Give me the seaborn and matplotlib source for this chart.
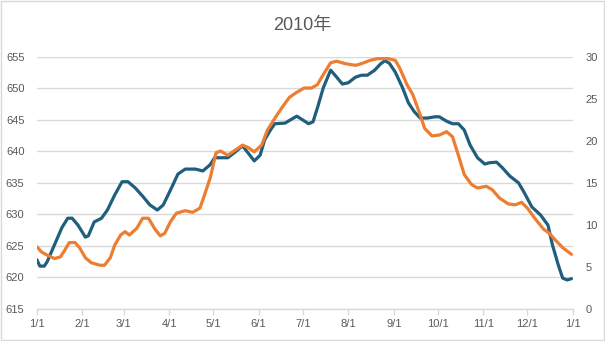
import numpy as np
import pandas as pd
import matplotlib
matplotlib.use("Agg")
import matplotlib.pyplot as plt
import matplotlib.dates as mdates
import seaborn as sns

# ---- data ----
title = "2010年"
blue_days = [0, 2, 5, 7, 12, 17, 21, 24, 28, 33, 35, 39, 44, 48, 53, 58, 62, 67, 72, 77,
             82, 86, 91, 96, 101, 108, 113, 118, 121, 126, 130, 135, 140, 145, 148, 152,
             155, 159, 162, 169, 174, 177, 181, 185, 188, 191, 195, 200, 203, 208, 212,
             217, 221, 225, 230, 234, 237, 240, 244, 249, 253, 257, 261, 266, 271, 274,
             279, 283, 287, 291, 295, 300, 305, 308, 313, 317, 322, 328, 332, 337, 343,
             348, 351, 355, 358, 361, 364]
blue_vals = [622.8, 621.8, 621.8, 622.5, 625.2, 627.9, 629.4, 629.4, 628.3, 626.4, 626.6,
             628.8, 629.4, 630.7, 633.1, 635.2, 635.2, 634.2, 632.9, 631.5, 630.7, 631.5,
             633.9, 636.4, 637.2, 637.2, 636.9, 637.9, 639.0, 639.0, 639.0, 639.9, 640.9,
             639.4, 638.5, 639.4, 641.8, 643.4, 644.4, 644.5, 645.2, 645.6, 645.0, 644.4,
             644.7, 646.9, 650.1, 652.9, 652.1, 650.7, 650.9, 651.8, 652.1, 652.1, 652.9,
             653.9, 654.4, 654.0, 652.6, 650.1, 647.7, 646.3, 645.3, 645.3, 645.5, 645.5,
             644.8, 644.4, 644.4, 643.4, 641.0, 639.0, 638.0, 638.2, 638.3, 637.4, 636.1,
             635.0, 633.4, 631.2, 629.9, 628.3, 625.2, 622.0, 619.9, 619.6, 619.8]

orange_days = [0, 3, 7, 12, 16, 19, 22, 26, 29, 33, 37, 43, 46, 50, 53, 57, 60, 63, 68, 72,
               76, 80, 84, 87, 91, 95, 101, 106, 111, 114, 118, 122, 125, 130, 135, 140,
               144, 148, 153, 157, 162, 167, 172, 177, 182, 187, 191, 195, 200, 204, 210,
               217, 221, 227, 232, 239, 244, 247, 252, 256, 261, 264, 269, 274, 279, 283,
               287, 291, 296, 300, 306, 310, 315, 321, 326, 330, 334, 339, 345, 349, 353,
               358, 364]
orange_vals = [7.4, 6.8, 6.4, 6.0, 6.2, 7.0, 7.9, 7.9, 7.3, 6.1, 5.5, 5.2, 5.2, 6.1, 7.6,
               8.8, 9.2, 8.8, 9.6, 10.8, 10.8, 9.6, 8.7, 9.0, 10.4, 11.4, 11.7, 11.5, 12.0,
               13.5, 15.6, 18.6, 18.8, 18.3, 18.9, 19.5, 19.2, 18.7, 19.5, 21.3, 22.7, 24.0,
               25.2, 25.8, 26.3, 26.3, 26.7, 27.9, 29.3, 29.5, 29.2, 29.0, 29.2, 29.6, 29.8,
               29.8, 29.6, 28.7, 26.7, 25.5, 23.1, 21.5, 20.6, 20.7, 21.1, 20.5, 18.3, 16.0,
               14.8, 14.4, 14.6, 14.2, 13.2, 12.5, 12.4, 12.7, 12.0, 10.8, 9.5, 9.0, 8.2,
               7.3, 6.5]

left_ticks = [615, 620, 625, 630, 635, 640, 645, 650, 655]
right_ticks = [0, 5, 10, 15, 20, 25, 30]
month_labels = ["1/1", "2/1", "3/1", "4/1", "5/1", "6/1", "7/1", "8/1", "9/1",
                "10/1", "11/1", "12/1", "1/1"]

# ---- build frames ----
start = pd.Timestamp("2010-01-01")
df_blue = pd.DataFrame({"date": start + pd.to_timedelta(blue_days, unit="D"),
                        "value": blue_vals})
df_orange = pd.DataFrame({"date": start + pd.to_timedelta(orange_days, unit="D"),
                          "value": orange_vals})
month_ticks = pd.date_range("2010-01-01", "2011-01-01", freq="MS")

sns.set_theme(style="white")
plt.rcParams["font.family"] = ["Liberation Sans", "Noto Sans CJK SC", "DejaVu Sans"]

text_color = "#595959"
grid_color = "#d9d9d9"
blue = "#1f5f7d"
orange = "#ed7d31"

fig = plt.figure(figsize=(6.05, 3.41), dpi=100)
ax = fig.add_axes([0.061, 0.094, 0.886, 0.739])
ax2 = ax.twinx()

sns.lineplot(data=df_blue, x="date", y="value", ax=ax, color=blue, linewidth=2.3,
             zorder=3)
sns.lineplot(data=df_orange, x="date", y="value", ax=ax2, color=orange, linewidth=2.3,
             zorder=3)

ax.set_xlim(month_ticks[0], month_ticks[-1])
ax.set_ylim(615, 655)
ax2.set_ylim(0, 30)
ax.set_yticks(left_ticks)
ax2.set_yticks(right_ticks)
ax.set_xticks(month_ticks)
ax.set_xticklabels(month_labels)

for a in (ax, ax2):
    a.set_xlabel("")
    a.set_ylabel("")
    for s in a.spines.values():
        s.set_visible(False)
    a.patch.set_alpha(0)

ax.grid(axis="y", color=grid_color, linewidth=1.0)
ax.set_axisbelow(True)
ax.spines["bottom"].set_visible(True)
ax.spines["bottom"].set_color(grid_color)
ax.spines["bottom"].set_linewidth(1.0)

ax.tick_params(axis="x", which="major", length=4, width=1, color=grid_color,
               labelsize=8, labelcolor=text_color, pad=3, direction="out", bottom=True)
ax.tick_params(axis="y", length=0, labelsize=8, labelcolor=text_color, pad=9)
ax2.tick_params(axis="y", length=0, labelsize=8, labelcolor=text_color, pad=9)

fig.text(0.5, 0.925, title, ha="center", va="center", fontsize=13,
         color=text_color)

# chart-area border
fig.patches.append(plt.Rectangle((0.001, 0.002), 0.997, 0.995, transform=fig.transFigure,
                                 fill=False, edgecolor=grid_color, linewidth=1.0))

fig.savefig("out.png", dpi=100)
